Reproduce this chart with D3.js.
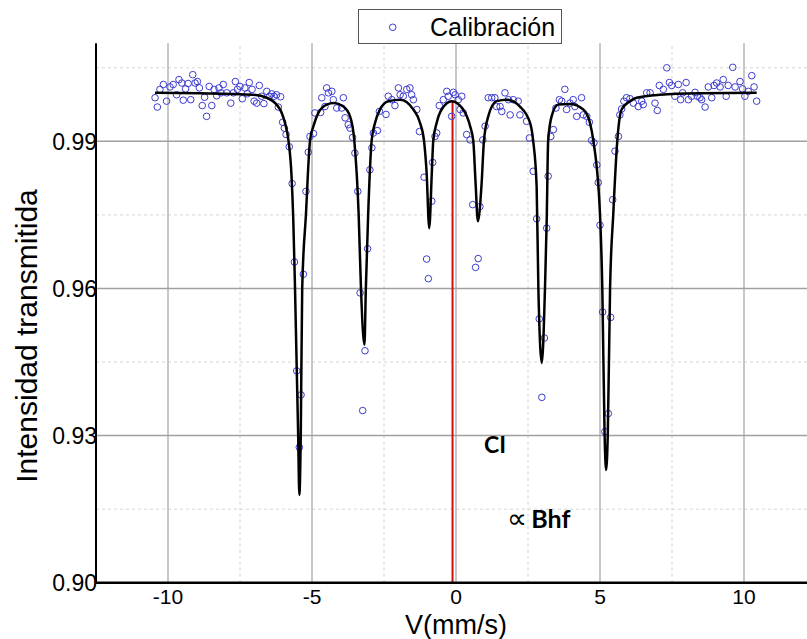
<!DOCTYPE html>
<html>
<head>
<meta charset="utf-8">
<script src="https://cdn.jsdelivr.net/npm/d3@7"></script>
<style>
  body { margin: 0; background: #fff; }
  svg { display: block; font-family: "Liberation Sans", Arial, sans-serif; }
</style>
</head>
<body>
<script>
// axis ticks
var xTicks = [-10, -5, 0, 5, 10],
    xMinor = [-7.5, -2.5, 2.5, 7.5],
    yTicks = [0.90, 0.93, 0.96, 0.99],
    yMinor = [0.915, 0.945, 0.975, 1.005];

// centre of the sextet (red line)
var isomerShift = -0.12;

// measured spectrum: [V (mm/s), transmitted intensity]
var calibration = [
  [-10.45,0.9989],[-10.37,0.9970],[-10.28,1.0006],[-10.16,1.0016],[-10.05,0.9982],[-9.93,1.0011],
  [-9.82,1.0016],[-9.70,0.9995],[-9.62,1.0026],[-9.52,1.0019],[-9.47,0.9984],[-9.39,1.0007],
  [-9.30,1.0018],[-9.21,0.9985],[-9.14,1.0036],[-9.06,1.0019],[-8.98,1.0022],[-8.91,1.0009],
  [-8.81,0.9973],[-8.73,0.9990],[-8.66,0.9951],[-8.57,1.0012],[-8.48,0.9973],[-8.40,1.0006],
  [-8.31,0.9993],[-8.23,1.0009],[-8.16,0.9999],[-8.08,1.0016],[-7.96,0.9999],[-7.82,0.9978],
  [-7.73,0.9999],[-7.66,1.0022],[-7.59,1.0006],[-7.50,1.0012],[-7.42,0.9987],[-7.33,1.0009],
  [-7.25,0.9997],[-7.18,1.0020],[-7.08,1.0006],[-7.01,0.9982],[-6.92,0.9978],[-6.83,1.0014],
  [-6.75,0.9992],[-6.67,0.9977],[-6.57,1.0002],[-6.48,0.9992],[-6.40,0.9997],[-6.32,0.9992],
  [-6.23,0.9995],[-6.17,0.9970],[-6.09,0.9991],[-6.02,0.9939],[-5.96,0.9927],[-5.90,0.9914],
  [-5.79,0.9889],[-5.69,0.9814],[-5.61,0.9654],[-5.53,0.9432],[-5.44,0.9276],[-5.38,0.9383],
  [-5.30,0.9629],[-5.21,0.9798],[-5.13,0.9878],[-5.07,0.9910],[-4.95,0.9916],[-4.90,0.9958],
  [-4.70,0.9959],[-4.66,0.9989],[-4.55,0.9971],[-4.49,1.0009],[-4.43,0.9999],[-4.31,1.0002],
  [-4.26,0.9985],[-4.14,0.9968],[-3.97,0.9968],[-3.91,0.9989],[-3.85,0.9948],[-3.74,0.9934],
  [-3.68,0.9927],[-3.59,0.9908],[-3.51,0.9876],[-3.41,0.9798],[-3.33,0.9591],[-3.24,0.9351],
  [-3.16,0.9473],[-3.07,0.9681],[-2.99,0.9842],[-2.92,0.9887],[-2.87,0.9917],[-2.73,0.9922],
  [-2.66,0.9961],[-2.43,0.9955],[-2.35,0.9992],[-2.23,0.9985],[-2.12,0.9973],[-2.00,1.0009],
  [-1.94,0.9995],[-1.83,0.9992],[-1.71,1.0006],[-1.60,1.0009],[-1.54,0.9995],[-1.48,0.9985],
  [-1.36,0.9965],[-1.27,0.9920],[-1.11,0.9827],[-1.02,0.9660],[-0.96,0.9620],[-0.84,0.9778],
  [-0.81,0.9857],[-0.73,0.9910],[-0.67,0.9917],[-0.58,0.9973],[-0.44,0.9985],[-0.32,1.0002],
  [-0.27,0.9992],[-0.15,0.9951],[-0.09,1.0000],[-0.03,0.9995],[0.08,0.9985],[0.14,0.9965],
  [0.20,0.9992],[0.25,0.9958],[0.37,0.9914],[0.49,0.9903],[0.58,0.9771],[0.68,0.9643],
  [0.77,0.9661],[0.83,0.9767],[0.93,0.9903],[1.01,0.9931],[1.12,0.9989],[1.24,0.9989],
  [1.35,0.9989],[1.41,0.9971],[1.53,0.9971],[1.59,0.9961],[1.70,0.9999],[1.82,0.9985],
  [1.88,0.9954],[1.99,0.9985],[2.16,0.9982],[2.22,0.9954],[2.45,0.9941],[2.55,0.9907],
  [2.68,0.9839],[2.80,0.9742],[2.89,0.9538],[2.98,0.9378],[3.07,0.9499],[3.15,0.9723],
  [3.20,0.9829],[3.29,0.9910],[3.38,0.9924],[3.47,0.9968],[3.59,0.9985],[3.67,0.9982],
  [3.78,1.0006],[3.84,0.9965],[3.96,0.9978],[4.07,0.9985],[4.13,0.9971],[4.19,0.9951],
  [4.36,0.9989],[4.42,0.9954],[4.54,0.9951],[4.63,0.9939],[4.71,0.9902],[4.79,0.9897],
  [4.89,0.9852],[4.94,0.9816],[5.00,0.9729],[5.09,0.9552],[5.17,0.9308],[5.29,0.9345],
  [5.37,0.9541],[5.44,0.9781],[5.52,0.9880],[5.64,0.9910],[5.69,0.9954],[5.75,0.9966],
  [5.83,0.9982],[5.92,0.9989],[6.04,0.9987],[6.16,0.9978],[6.33,0.9971],[6.45,0.9982],
  [6.50,0.9975],[6.62,0.9999],[6.74,0.9999],[6.91,0.9978],[6.99,0.9963],[7.06,1.0014],
  [7.20,1.0006],[7.32,1.0050],[7.41,1.0020],[7.49,1.0014],[7.60,0.9992],[7.72,1.0016],
  [7.80,0.9985],[7.87,0.9999],[7.99,1.0020],[8.07,0.9985],[8.18,0.9992],[8.30,1.0000],
  [8.38,0.9992],[8.47,0.9989],[8.53,0.9985],[8.65,0.9970],[8.76,1.0011],[8.88,0.9989],
  [8.96,1.0014],[9.05,1.0019],[9.17,1.0011],[9.28,1.0026],[9.38,0.9992],[9.45,1.0014],
  [9.61,1.0051],[9.69,1.0011],[9.86,1.0022],[9.95,1.0007],[10.03,0.9992],[10.15,1.0002],
  [10.27,1.0034],[10.35,1.0011],[10.44,0.9982]
];

// fitted curve
var fit = [
  [-10.45,0.9999],[-8.89,0.9998],[-7.04,0.9995],[-6.57,0.9989],[-6.23,0.9975],[-6.05,0.9958],
  [-5.94,0.9938],[-5.82,0.9903],[-5.71,0.9829],[-5.65,0.9740],[-5.59,0.9601],[-5.48,0.9301],
  [-5.44,0.9179],[-5.39,0.9301],[-5.34,0.9601],[-5.21,0.9751],[-5.07,0.9901],[-4.95,0.9931],
  [-4.78,0.9958],[-4.49,0.9975],[-4.24,0.9978],[-3.91,0.9971],[-3.68,0.9951],[-3.53,0.9901],
  [-3.38,0.9751],[-3.30,0.9601],[-3.18,0.9485],[-3.13,0.9601],[-3.05,0.9751],[-2.93,0.9901],
  [-2.81,0.9938],[-2.64,0.9965],[-2.35,0.9982],[-1.94,0.9985],[-1.48,0.9965],[-1.25,0.9938],
  [-1.11,0.9901],[-1.02,0.9836],[-0.93,0.9723],[-0.84,0.9836],[-0.79,0.9901],[-0.67,0.9938],
  [-0.50,0.9965],[-0.15,0.9982],[0.25,0.9965],[0.49,0.9931],[0.60,0.9901],[0.68,0.9815],
  [0.76,0.9737],[0.89,0.9815],[0.97,0.9901],[1.12,0.9951],[1.41,0.9982],[1.76,0.9985],
  [2.22,0.9971],[2.57,0.9938],[2.68,0.9901],[2.80,0.9808],[2.86,0.9601],[2.98,0.9448],
  [3.09,0.9601],[3.15,0.9740],[3.20,0.9901],[3.32,0.9951],[3.55,0.9975],[3.96,0.9976],
  [4.42,0.9965],[4.65,0.9938],[4.77,0.9901],[5.00,0.9751],[5.08,0.9601],[5.16,0.9301],
  [5.21,0.9230],[5.27,0.9301],[5.35,0.9601],[5.46,0.9751],[5.60,0.9901],[5.75,0.9965],
  [6.04,0.9982],[6.27,0.9989],[7.08,0.9995],[8.47,0.9998],[10.44,0.9999]
];

var width = 807,
    height = 639;

var x = d3.scaleLinear().domain([-12.5, 12.5]).range([96, 816]),
    y = d3.scaleLinear().domain([0.90, 1.01]).range([582.7, 43.3]);

var svg = d3.select("body").append("svg")
  .attr("width", width)
  .attr("height", height);

// minor grid (dashed)
svg.append("g").selectAll("line").data(xMinor).enter().append("line")
  .attr("x1", x).attr("x2", x)
  .attr("y1", y(0.90)).attr("y2", y(1.01))
  .attr("stroke", "#d4d4d4").attr("stroke-width", 1).attr("stroke-dasharray", "3,3");
svg.append("g").selectAll("line").data(yMinor).enter().append("line")
  .attr("x1", x(-12.5)).attr("x2", width)
  .attr("y1", y).attr("y2", y)
  .attr("stroke", "#d4d4d4").attr("stroke-width", 1).attr("stroke-dasharray", "3,3");

// major grid
svg.append("g").selectAll("line").data(xTicks).enter().append("line")
  .attr("x1", x).attr("x2", x)
  .attr("y1", y(0.90)).attr("y2", y(1.01))
  .attr("stroke", "#b4b4b4").attr("stroke-width", 1.5);
svg.append("g").selectAll("line").data(yTicks.slice(1)).enter().append("line")
  .attr("x1", x(-12.5)).attr("x2", width)
  .attr("y1", y).attr("y2", y)
  .attr("stroke", "#a0a0a0").attr("stroke-width", 1.5);

// red line at the centre of the spectrum
svg.append("line")
  .attr("x1", x(isomerShift)).attr("x2", x(isomerShift))
  .attr("y1", y(0.9982)).attr("y2", y(0.90))
  .attr("stroke", "#cc1010").attr("stroke-width", 2);

// data points
svg.append("g").selectAll("circle").data(calibration).enter().append("circle")
  .attr("cx", function(d) { return x(d[0]); })
  .attr("cy", function(d) { return y(d[1]); })
  .attr("r", 3.3)
  .attr("fill", "none")
  .attr("stroke", "#3c3cd0")
  .attr("stroke-width", 1);

// fit
var line = d3.line()
  .x(function(d) { return x(d[0]); })
  .y(function(d) { return y(d[1]); })
  .curve(d3.curveMonotoneX);

svg.append("path")
  .datum(fit)
  .attr("d", line)
  .attr("fill", "none")
  .attr("stroke", "#000")
  .attr("stroke-width", 2.5)
  .attr("stroke-linejoin", "round");

// axes
svg.append("line")
  .attr("x1", x(-12.5)).attr("x2", x(-12.5))
  .attr("y1", y(1.01)).attr("y2", y(0.90) + 1)
  .attr("stroke", "#000").attr("stroke-width", 2);
svg.append("line")
  .attr("x1", x(-12.5) - 1).attr("x2", width)
  .attr("y1", y(0.90)).attr("y2", y(0.90))
  .attr("stroke", "#000").attr("stroke-width", 2.5);

svg.append("g").selectAll("text").data(yTicks).enter().append("text")
  .attr("x", x(-12.5) + 1)
  .attr("y", y)
  .attr("dy", "0.36em")
  .attr("text-anchor", "end")
  .style("font-size", "23px")
  .text(d3.format(".2f"));

svg.append("g").selectAll("text").data(xTicks).enter().append("text")
  .attr("x", x)
  .attr("y", 604)
  .attr("text-anchor", "middle")
  .style("font-size", "21px")
  .text(function(d) { return d; });

// axis titles
svg.append("text")
  .attr("x", x(0))
  .attr("y", 634)
  .attr("text-anchor", "middle")
  .style("font-size", "27px")
  .text("V(mm/s)");

svg.append("text")
  .attr("transform", "translate(37,336) rotate(-90)")
  .attr("text-anchor", "middle")
  .style("font-size", "30px")
  .text("Intensidad transmitida");

// annotations
svg.append("text")
  .attr("x", x(0.97)).attr("y", y(0.9265))
  .style("font-family", "Lato, 'Open Sans', sans-serif")
  .style("font-weight", "bold")
  .style("font-size", "23px")
  .text("CI");

var bhf = svg.append("text")
  .attr("x", x(1.78)).attr("y", y(0.9112))
  .style("font-family", "Lato, 'Open Sans', sans-serif")
  .style("font-weight", "bold")
  .style("font-size", "25px");
bhf.append("tspan").style("font-size", "28px").style("font-weight", "normal").text("\u221D");
bhf.append("tspan").attr("dx", 4).text("Bhf");

// legend
var legend = svg.append("g");
legend.append("rect")
  .attr("x", 358.5).attr("y", 9.5)
  .attr("width", 203).attr("height", 34)
  .attr("fill", "#fff").attr("stroke", "#555").attr("stroke-width", 1);
legend.append("circle")
  .attr("cx", 392.7).attr("cy", 27.3).attr("r", 3.3)
  .attr("fill", "none").attr("stroke", "#3c3cd0").attr("stroke-width", 1);
legend.append("text")
  .attr("x", 430).attr("y", 36)
  .style("font-size", "25px")
  .text("Calibración");
</script>
</body>
</html>
